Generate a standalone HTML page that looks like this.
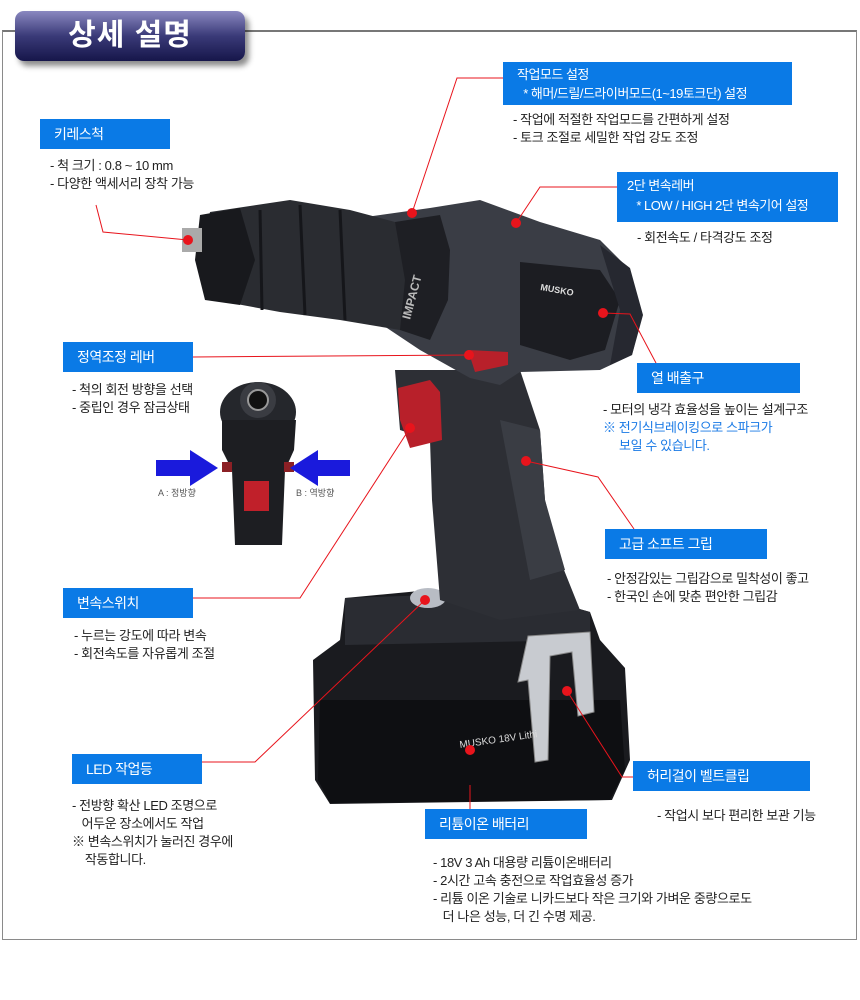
<!DOCTYPE html>
<html><head><meta charset="utf-8">
<style>
body{margin:0;width:860px;height:1000px;background:#fff;position:relative;overflow:hidden;font-family:"Liberation Sans","Noto Sans CJK KR",sans-serif;}
.frame{position:absolute;left:2px;top:30px;width:853px;height:907px;border:1px solid #8a8a8a;border-top:2px solid #777;}
.tab{position:absolute;left:15px;top:11px;width:230px;height:50px;border-radius:9px;background:linear-gradient(#8a88c0,#3a3a78 50%,#16164a);box-shadow:4px 5px 6px rgba(0,0,0,.45);color:#fff;font-size:30px;font-weight:bold;text-align:center;line-height:50px;letter-spacing:1px;}
.lb{position:absolute;background:#0a7ae6;color:#fff;font-size:14px;line-height:30px;padding-left:14px;box-sizing:border-box;letter-spacing:-0.5px;white-space:nowrap;overflow:hidden;}
.tx{position:absolute;font-size:13px;color:#222;line-height:18px;white-space:nowrap;letter-spacing:-0.4px;}
.bl{color:#1a7ae6;}
svg{position:absolute;left:0;top:0;}
</style></head><body>
<div class="frame"></div>
<div class="tab">상세 설명</div>

<svg width="860" height="1000">
<g>
<path d="M345,598 L430,590 L520,592 L590,612 L600,640 L625,668 L630,760 L612,800 L330,804 L315,780 L313,660 L340,640 Z" fill="#1a1b1f"/>
<path d="M320,700 L620,700 L625,770 L610,800 L330,803 L318,780 Z" fill="#0e0f12"/>
<path d="M345,598 L520,592 L590,612 L590,640 L345,645 Z" fill="#2a2c32"/>
<ellipse cx="428" cy="598" rx="18" ry="10" fill="#b8bcc4"/>
<path d="M395,370 L520,370 L540,430 L545,500 L560,560 L580,610 L500,620 L440,600 L432,500 L430,440 L400,430 Z" fill="#2d2f35"/>
<path d="M500,420 L540,430 L545,500 L565,570 L530,580 L515,500 Z" fill="#3a3d44"/>
<path d="M398,388 L430,380 L440,392 L442,440 L410,448 L400,420 Z" fill="#b8202a"/>
<path d="M330,222 L430,208 L480,200 L540,222 L600,240 L630,270 L642,315 L632,355 L600,370 L520,372 L500,385 L470,378 L420,350 L360,310 L330,300 Z" fill="#3a3d45"/>
<path d="M520,262 L600,270 L620,300 L605,350 L570,360 L520,345 Z" fill="#1c1d22"/>
<path d="M600,245 L630,268 L643,315 L632,355 L610,365 L620,310 Z" fill="#262830"/>
<path d="M395,222 L440,215 L450,250 L448,300 L430,340 L400,330 Z" fill="#1e1f24"/>
<path d="M210,212 L290,200 L350,210 L395,222 L405,280 L400,330 L340,320 L280,312 L215,300 L200,260 Z" fill="#2a2c31"/>
<path d="M200,215 L240,208 L255,260 L240,305 L205,300 L195,260 Z" fill="#18191d"/>
<g stroke="#15161a" stroke-width="3"><line x1="260" y1="210" x2="262" y2="310"/><line x1="300" y1="205" x2="305" y2="315"/><line x1="340" y1="210" x2="345" y2="320"/></g>
<rect x="182" y="228" width="20" height="24" fill="#aaa"/>
<path d="M468,350 L508,352 L508,365 L475,372 Z" fill="#b8202a"/>
<path d="M528,636 L590,632 L594,712 L578,716 L572,652 L550,656 L548,760 L535,762 L528,680 L518,682 Z" fill="#c8cbd0" stroke="#888" stroke-width="1"/>
<text x="460" y="748" fill="#ddd" font-size="10" font-family="Liberation Sans" transform="rotate(-8 460 748)">MUSKO  18V Lithi</text>
<text x="410" y="320" fill="#bbb" font-size="12" font-weight="bold" font-family="Liberation Sans" transform="rotate(-75 410 320)">IMPACT</text>
<text x="540" y="290" fill="#ddd" font-size="9" font-weight="bold" font-family="Liberation Sans" transform="rotate(10 540 290)">MUSKO</text>
</g>

<g>
<ellipse cx="258" cy="412" rx="38" ry="30" fill="#25272c"/>
<circle cx="258" cy="400" r="18" fill="#3a3c42"/>
<circle cx="258" cy="400" r="10" fill="#111" stroke="#999" stroke-width="2"/>
<path d="M222,420 L296,420 L294,450 L285,470 L282,545 L235,545 L232,470 L222,450 Z" fill="#1d1e22"/>
<rect x="244" y="481" width="25" height="30" fill="#c0202a"/>
<rect x="222" y="462" width="10" height="10" fill="#8b2025"/>
<rect x="284" y="462" width="10" height="10" fill="#8b2025"/>
<path d="M156,460 L190,460 L190,450 L218,468 L190,486 L190,476 L156,476 Z" fill="#1a1adc"/>
<path d="M350,460 L318,460 L318,450 L290,468 L318,486 L318,476 L350,476 Z" fill="#1a1adc"/>
<text x="158" y="496" font-size="9" fill="#555" font-family="Liberation Sans, Noto Sans CJK KR">A : 정방향</text>
<text x="296" y="496" font-size="9" fill="#555" font-family="Liberation Sans, Noto Sans CJK KR">B : 역방향</text>
</g>

<g stroke="#e8141c" stroke-width="1" fill="none">
<polyline points="96,205 103,232 188,240"/>
<polyline points="412,213 457,78 503,78"/>
<polyline points="516,223 540,187 617,187"/>
<polyline points="193,357 469,355"/>
<polyline points="603,313 630,314 656,363"/>
<polyline points="526,461 598,477 634,529"/>
<polyline points="193,598 300,598 410,428"/>
<polyline points="202,762 255,762 425,600"/>
<polyline points="633,777 622,777 567,691"/>
<polyline points="470,785 470,809"/>
</g>
<g fill="#e8141c">
<circle cx="188" cy="240" r="5"/><circle cx="412" cy="213" r="5"/><circle cx="516" cy="223" r="5"/>
<circle cx="469" cy="355" r="5"/><circle cx="603" cy="313" r="5"/><circle cx="526" cy="461" r="5"/>
<circle cx="410" cy="428" r="5"/><circle cx="425" cy="600" r="5"/><circle cx="567" cy="691" r="5"/>
<circle cx="470" cy="750" r="5"/>
</g>
</svg>

<div class="lb" style="left:40px;top:119px;width:130px;">키레스척</div>
<div class="tx" style="left:50px;top:157px;">- 척 크기 : 0.8 ~ 10 mm<br>- 다양한 액세서리 장착 가능</div>

<div class="lb" style="left:503px;top:62px;width:289px;height:43px;line-height:19px;padding-top:3px;font-size:13px;">작업모드 설정<br>&nbsp;&nbsp;* 해머/드릴/드라이버모드(1~19토크단) 설정</div>
<div class="tx" style="left:513px;top:111px;">- 작업에 적절한 작업모드를 간편하게 설정<br>- 토크 조절로  세밀한 작업 강도 조정</div>

<div class="lb" style="left:617px;top:172px;width:221px;height:50px;line-height:20px;padding-top:4px;font-size:13px;padding-left:10px;">2단 변속레버<br>&nbsp;&nbsp;&nbsp;* LOW / HIGH 2단 변속기어 설정</div>
<div class="tx" style="left:637px;top:229px;">- 회전속도 / 타격강도 조정</div>

<div class="lb" style="left:63px;top:342px;width:130px;">정역조정 레버</div>
<div class="tx" style="left:72px;top:381px;">- 척의 회전 방향을 선택<br>- 중립인 경우 잠금상태</div>

<div class="lb" style="left:637px;top:363px;width:163px;">열 배출구</div>
<div class="tx" style="left:603px;top:401px;">- 모터의 냉각 효율성을 높이는 설계구조<br><span class="bl">※ 전기식브레이킹으로 스파크가<br>&nbsp;&nbsp;&nbsp;&nbsp;&nbsp;보일 수 있습니다.</span></div>

<div class="lb" style="left:605px;top:529px;width:162px;">고급 소프트 그립</div>
<div class="tx" style="left:607px;top:570px;">- 안정감있는 그립감으로 밀착성이 좋고<br>- 한국인 손에 맞춘 편안한 그립감</div>

<div class="lb" style="left:63px;top:588px;width:130px;">변속스위치</div>
<div class="tx" style="left:74px;top:627px;">- 누르는 강도에 따라 변속<br>- 회전속도를 자유롭게 조절</div>

<div class="lb" style="left:72px;top:754px;width:130px;">LED 작업등</div>
<div class="tx" style="left:72px;top:797px;">- 전방향 확산 LED 조명으로<br>&nbsp;&nbsp;&nbsp;어두운 장소에서도 작업<br>※ 변속스위치가 눌러진 경우에<br>&nbsp;&nbsp;&nbsp;&nbsp;작동합니다.</div>

<div class="lb" style="left:633px;top:761px;width:177px;">허리걸이 벨트클립</div>
<div class="tx" style="left:657px;top:807px;">- 작업시 보다 편리한 보관 기능</div>

<div class="lb" style="left:425px;top:809px;width:162px;">리튬이온 배터리</div>
<div class="tx" style="left:433px;top:854px;">- 18V 3 Ah 대용량 리튬이온배터리<br>- 2시간 고속 충전으로 작업효율성 증가<br>- 리튬 이온 기술로 니카드보다 작은 크기와 가벼운 중량으로도<br>&nbsp;&nbsp;&nbsp;더 나은 성능, 더 긴 수명 제공.</div>
</body></html>
